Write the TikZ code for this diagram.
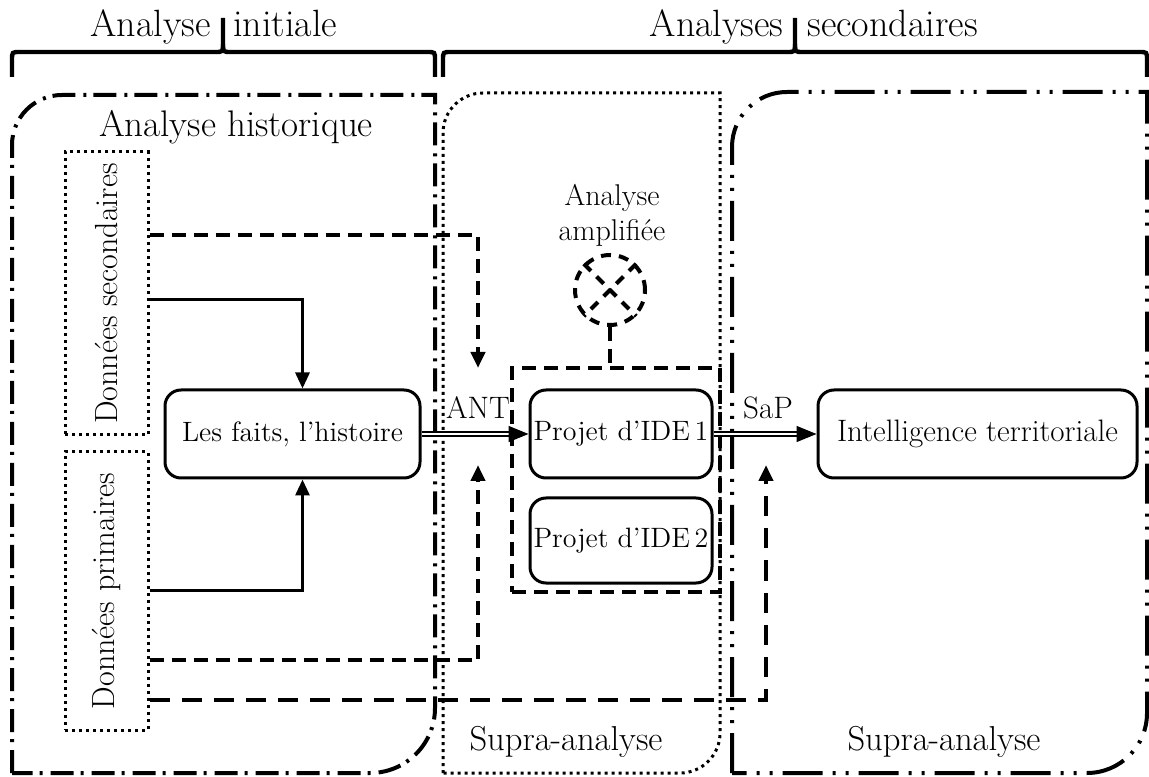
\documentclass[tikz,border=0pt]{standalone}
\usetikzlibrary{arrows.meta,calc}
\begin{document}
\begin{tikzpicture}[x=0.5pt,y=0.5pt,
  lbl/.style={inner sep=0pt, font=\fontsize{17.3}{20}\selectfont},
  toplbl/.style={inner sep=0pt, font=\fontsize{19}{22}\selectfont},
  rbox/.style={draw, line width=1.5pt, rounded corners=8pt, inner sep=0pt, font=\fontsize{14}{17}\selectfont},
  dotbox/.style={draw, line width=1.5pt, dash pattern=on 1.5pt off 2pt, inner sep=0pt},
  dotline/.style={line width=1.5pt, dash pattern=on 1.5pt off 2pt},
  dsh/.style={line width=2pt, dash pattern=on 7pt off 4pt},
  dshlong/.style={line width=2pt, dash pattern=on 10pt off 6pt},
  dashdot/.style={line width=2pt, dash pattern=on 11.5pt off 4pt on 1.5pt off 3.5pt},
  dashdotdot/.style={line width=2pt, dash pattern=on 20pt off 5pt on 1.5pt off 5pt on 1.5pt off 5pt},
  brace/.style={line width=2.2pt},
  sarrow/.style={line width=1.5pt, -{Triangle[length=8pt,width=7pt]}},
  darrow/.style={-{Triangle[length=8pt,width=7pt]}},
  dbl/.style={double, double distance=1.2pt, line width=0.7pt, -{Triangle[length=10pt,width=8pt]}}
]
\useasboundingbox (0,0) rectangle (1149,776);

% braces
\draw[brace] (12,699) -- (12,716) .. controls (12,724) .. (20,724) -- (215,724) .. controls (223,724) .. (223,732) -- (223,758);
\draw[brace] (223,732) .. controls (223,724) .. (231,724) -- (427,724) .. controls (435,724) .. (435,716) -- (435,699);
\draw[brace] (443,699) -- (443,716) .. controls (443,724) .. (451,724) -- (787,724) .. controls (795,724) .. (795,732) -- (795,758);
\draw[brace] (795,732) .. controls (795,724) .. (803,724) -- (1139,724) .. controls (1147,724) .. (1147,716) -- (1147,699);
\node[toplbl, anchor=base east] (t1a) at (211,739) {Analyse};
\node[toplbl, anchor=base west] (t1b) at (233,739) {initiale};
\node[toplbl, anchor=base east] (t2a) at (784,739) {Analyses};
\node[toplbl, anchor=base west] (t2b) at (807,739) {secondaires};

% containers
\draw[dashdot] (12,3) -- (12,631) arc[start angle=180,end angle=90,radius=25pt] -- (435,681) -- (435,68) arc[start angle=0,end angle=-90,radius=32.5pt] -- cycle;
\draw[dotline] (443,3) -- (443,643) arc[start angle=180,end angle=90,radius=20pt] -- (720,683) -- (720,43) arc[start angle=0,end angle=-90,radius=20pt] -- cycle;
\draw[dashdotdot] (732,3) -- (732,629) arc[start angle=180,end angle=90,radius=27.5pt] -- (1147,684) -- (1147,63) arc[start angle=0,end angle=-90,radius=30pt] -- cycle;

\node[lbl, font=\fontsize{18.5}{21}\selectfont] (hist) at (236,649) {Analyse historique};
\node[lbl] (supra1) at (566,34) {Supra-analyse};
\node[lbl] (supra2) at (944,34) {Supra-analyse};

% data boxes
\node[dotbox, minimum width=41.5pt, minimum height=141.5pt] (sec) at (106.5,482.5) {};
\node[rotate=90, inner sep=0pt, font=\fontsize{16}{19}\selectfont] (sect) at (sec.center) {Données secondaires};
\node[dotbox, minimum width=41.5pt, minimum height=139pt] (prim) at (106.5,185) {};
\node[rotate=90, inner sep=0pt, font=\fontsize{16}{19}\selectfont] (primt) at (prim.center) {Données primaires};

% main boxes
\node[rbox, minimum width=127.5pt, minimum height=44pt] (faits) at (292.5,342) {Les faits, l’histoire};
\node[draw, dsh, minimum width=104pt, minimum height=112pt, inner sep=0pt] (grp) at (616,296) {};
\node[rbox, minimum width=91pt, minimum height=44pt] (p1) at (621,342) {Projet d’IDE\,1};
\node[rbox, minimum width=91pt, minimum height=42.5pt] (p2) at (621,235.5) {Projet d’IDE\,2};
\node[rbox, minimum width=159.5pt, minimum height=44pt, font=\fontsize{15.5}{18}\selectfont] (it) at (977.5,342) {Intelligence territoriale};

% amplified analysis
\node[align=center, inner sep=0pt, font=\fontsize{15}{17.5}\selectfont] (ampl) at (612,561) {Analyse\\amplifiée};
\node[circle, draw, line width=2pt, dash pattern=on 5pt off 4pt, minimum size=35pt, inner sep=0pt] (circ) at (610,486) {};
\draw[line width=2pt, dash pattern=on 5pt off 4pt] (circ.north west) -- (circ.south east);
\draw[line width=2pt, dash pattern=on 5pt off 4pt] (circ.north east) -- (circ.south west);
\draw[dsh] (circ.south) -- (circ.south |- grp.north);

% coordinates for free arrow ends
\coordinate (antTop) at (478,408);
\coordinate (antBot) at (478,311);
\coordinate (sapBot) at (766,311);

% solid arrows
\draw[sarrow] ($(sec.east)+(0,-6)$) -| ($(faits.north)+(10,0)$);
\draw[sarrow] ($(prim.east)+(0,1)$) -| ($(faits.south)+(10,0)$);

% dashed arrows
\draw[dsh, darrow] ($(sec.east)+(0,58)$) -| (antTop);
\draw[dsh, darrow] ($(prim.east)+(0,-69)$) -| (antBot);
\draw[dshlong, darrow] ($(prim.east)+(0,-109)$) -| (sapBot);

% double arrows
\draw[dbl] (faits.east) -- (p1.west);
\draw[dbl] (p1.east) -- (it.west);
\node[inner sep=0pt, font=\fontsize{15.5}{18}\selectfont] (ant) at (478,368) {ANT};
\node[inner sep=0pt, font=\fontsize{15.5}{18}\selectfont] (sap) at (768,368) {SaP};
\end{tikzpicture}
\end{document}
